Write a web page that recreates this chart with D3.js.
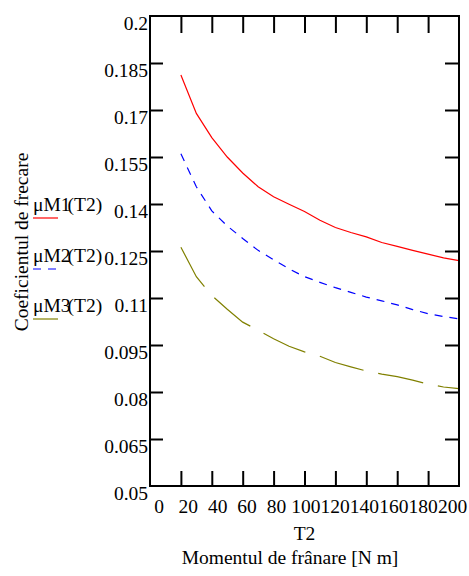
<!DOCTYPE html>
<html>
<head>
<meta charset="utf-8">
<script src="https://cdn.jsdelivr.net/npm/d3@7"></script>
<style>
  html, body { margin: 0; padding: 0; background: #fff; }
  svg { display: block; }
  svg text { font-family: "Liberation Serif", Tinos, "Times New Roman", Times, "DejaVu Serif", serif !important; fill: #000; }
</style>
</head>
<body>
<svg id="chart" width="469" height="576"></svg>
<script>
// ---- data ----
const T2 = [20, 30, 40, 50, 60, 70, 80, 90, 100, 110, 120, 130, 140, 150, 160, 170, 180, 190, 200];
const muM1 = [0.1812, 0.1689, 0.1612, 0.1550, 0.1499, 0.1455, 0.1423, 0.1399, 0.1376, 0.1348, 0.1325, 0.1309, 0.1295, 0.1277, 0.1265, 0.1252, 0.1240, 0.1228, 0.1219];
const muM2 = [0.1560, 0.1455, 0.1378, 0.1330, 0.1290, 0.1252, 0.1222, 0.1193, 0.1168, 0.1150, 0.1133, 0.1118, 0.1103, 0.1091, 0.1078, 0.1063, 0.1050, 0.1041, 0.1033];
const muM3 = [0.1262, 0.1168, 0.1108, 0.1064, 0.1023, 0.0997, 0.0970, 0.0946, 0.0928, 0.0914, 0.0894, 0.0880, 0.0867, 0.0857, 0.0849, 0.0838, 0.0825, 0.0816, 0.0811];
const xTicks = [0, 20, 40, 60, 80, 100, 120, 140, 160, 180, 200];
const yTicks = [0.2, 0.185, 0.17, 0.155, 0.14, 0.125, 0.11, 0.095, 0.08, 0.065, 0.05];
const yTickLabels = ["0.2", "0.185", "0.17", "0.155", "0.14", "0.125", "0.11", "0.095", "0.08", "0.065", "0.05"];
const seriesNames = ["\u03bcM1", "\u03bcM2", "\u03bcM3"];
const argName = "(T2)";
const xTitle1 = "T2";
const xTitle2 = "Momentul de fr\u00e2nare [N m]";
const yTitle = "Coeficientul de frecare";

// ---- layout ----
const L = 150, R = 459, TOP = 16, BOT = 486;
const FS = 19.5;
const FONT = "'Liberation Serif', Tinos, 'Times New Roman', Times, 'DejaVu Serif', serif";
const svg = d3.select("#chart");

const x = d3.scaleLinear().domain([0, 200]).range([L, R]);
const xLab = d3.scaleLinear().domain([0, 200]).range([158.5, 452]);
const y = d3.scaleLinear().domain([0.05, 0.2]).range([BOT, TOP]);

const series = [
  { name: seriesNames[0], vals: muM1, color: "#ff0000", dash: null },
  { name: seriesNames[1], vals: muM2, color: "#0000ff", dash: "8,7" },
  { name: seriesNames[2], vals: muM3, color: "#808000", dash: "46,15" }
];

// lines
const line = d3.line().x(d => x(d[0])).y(d => y(d[1]));
series.forEach(s => {
  svg.append("path")
    .datum(T2.map((t, i) => [t, s.vals[i]]))
    .attr("d", line)
    .attr("fill", "none")
    .attr("stroke", s.color)
    .attr("stroke-width", 1.2)
    .attr("stroke-dasharray", s.dash);
});

// frame
svg.append("rect")
  .attr("x", L).attr("y", TOP).attr("width", R - L).attr("height", BOT - TOP)
  .attr("fill", "none").attr("stroke", "#000").attr("stroke-width", 2);

const inner = xTicks.slice(1, -1);
const innerY = yTicks.slice(1, -1);

function styleTicks(g) {
  g.attr("font-family", FONT);
  g.select(".domain").remove();
  g.selectAll(".tick line").attr("stroke", "#000").attr("stroke-width", 2);
}

// bottom ticks (inward)
svg.append("g").attr("transform", `translate(0,${BOT})`)
  .call(d3.axisBottom(x).tickValues(inner).tickSize(-15).tickFormat(""))
  .call(styleTicks);
// top ticks (inward)
svg.append("g").attr("transform", `translate(0,${TOP})`)
  .call(d3.axisTop(x).tickValues(inner).tickSize(-17).tickFormat(""))
  .call(styleTicks);
// left ticks + labels
const yl = svg.append("g").attr("transform", `translate(${L},0)`)
  .call(d3.axisLeft(y).tickValues(yTicks).tickSize(-13).tickPadding(2)
    .tickFormat((d, i) => yTickLabels[i]))
  .call(styleTicks);
yl.selectAll(".tick line").filter(d => d === 0.2 || d === 0.05).remove();
yl.selectAll(".tick text")
  .attr("font-size", FS)
  .attr("fill", "#000").attr("dy", "0.67em");
// right ticks (inward)
svg.append("g").attr("transform", `translate(${R},0)`)
  .call(d3.axisRight(y).tickValues(innerY).tickSize(-14).tickFormat(""))
  .call(styleTicks);

// x tick labels
const xl = svg.append("g").attr("transform", `translate(0,${BOT})`)
  .call(d3.axisBottom(xLab).tickValues(xTicks).tickSize(0).tickPadding(0)
    .tickFormat(d3.format("d")))
  .call(styleTicks);
xl.selectAll(".tick text")
  .attr("font-size", FS)
  .attr("fill", "#000").attr("y", 27).attr("dy", 0);

// axis titles
svg.append("text").attr("x", (L + R) / 2).attr("y", 540)
  .attr("font-family", FONT)
  .attr("text-anchor", "middle").attr("font-size", FS).text(xTitle1);
svg.append("text").attr("x", 290).attr("y", 564)
  .attr("font-family", FONT)
  .attr("text-anchor", "middle").attr("font-size", FS).text(xTitle2);
svg.append("text")
  .attr("transform", "translate(28,242) rotate(-90)")
  .attr("font-family", FONT)
  .attr("text-anchor", "middle").attr("font-size", FS).text(yTitle);

// legend
const legY = [211, 262, 312];
series.forEach((s, i) => {
  const t = svg.append("text").attr("x", 33).attr("y", legY[i])
    .attr("font-family", FONT).attr("font-size", FS);
  t.append("tspan").text(s.name);
  t.append("tspan").attr("dx", -3).text(argName);
  svg.append("line")
    .attr("x1", 33).attr("x2", 58)
    .attr("y1", legY[i] + 7).attr("y2", legY[i] + 7)
    .attr("stroke", s.color).attr("stroke-width", 1.2)
    .attr("stroke-dasharray", s.dash === "46,15" ? null : s.dash);
});
</script>
</body>
</html>
